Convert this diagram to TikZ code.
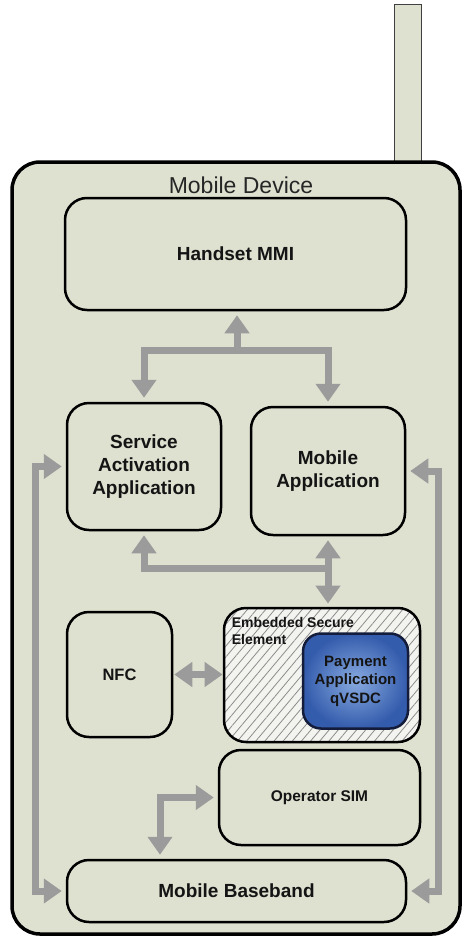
\documentclass[tikz,border=0pt]{standalone}
\usepackage{fontspec}
\setmainfont{Liberation Sans}
\usepackage{xcolor}
\usetikzlibrary{arrows.meta,patterns.meta}

\definecolor{devfill}{RGB}{222,225,208}
\definecolor{linkgray}{RGB}{155,155,155}
\definecolor{payin}{RGB}{136,170,224}
\definecolor{payout}{RGB}{52,92,172}
\definecolor{paydraw}{RGB}{20,28,60}

\begin{document}
\begin{tikzpicture}[
  x=1pt,y=-1pt,
  >={Triangle[width=24pt,length=18pt]},
  device/.style={rectangle,draw=black,fill=devfill,line width=3.5pt,rounded corners=28pt},
  box/.style={rectangle,draw=black,line width=2.5pt,rounded corners=22pt,
              align=center,text=black!92,inner sep=2pt,
              font=\fontsize{19}{23}\selectfont\bfseries},
  link/.style={draw=linkgray,line width=7pt,shorten <=4pt,shorten >=4pt}
]
  \useasboundingbox (0,0) rectangle (462,937);

  \draw[fill=devfill,draw=black!75,line width=1pt] (394,4) rectangle (421,166);
  \node[device,minimum width=448pt,minimum height=772pt](dev) at (236,548) {};
  \node[font=\fontsize{23}{26}\selectfont,text=black!85](devname) at (241,185) {Mobile Device};

  \node[box,minimum width=341pt,minimum height=112pt](mmi) at (235.5,254) {Handset MMI};
  \node[box,minimum width=154pt,minimum height=127pt](sa) at (144,466.5) {Service\\Activation\\Application};
  \node[box,minimum width=154pt,minimum height=128pt](ma) at (328,471) {Mobile\\Application};
  \node[box,minimum width=105pt,minimum height=125pt,
        font=\fontsize{16.5}{20}\selectfont\bfseries](nfc) at (119.5,674.5) {NFC};
  \node[box,minimum width=196pt,minimum height=134pt,preaction={fill=white!65!devfill},
        pattern={Lines[angle=50,distance=7pt,line width=0.8pt]},pattern color=black!45](ese) at (322,675) {};
  \node[anchor=north west,align=left,inner sep=0pt,text=black!92,
        font=\fontsize{14}{17}\selectfont\bfseries](eselabel) at ([xshift=8pt,yshift=-10pt]ese.north west) {Embedded Secure\\Element};
  \node[box,draw=paydraw,rounded corners=18pt,inner color=payin,outer color=payout,
        minimum width=105pt,minimum height=95pt,
        font=\fontsize{15}{18.5}\selectfont\bfseries](pay) at (355.5,681) {Payment\\Application\\qVSDC};
  \node[box,minimum width=201pt,minimum height=95pt,
        font=\fontsize{15.5}{18}\selectfont\bfseries](sim) at (319.5,797.5) {Operator SIM};
  \node[box,minimum width=339pt,minimum height=62pt](mbb) at (236.5,891) {Mobile Baseband};

  \coordinate (topjoin) at (237,350);
  \coordinate (midjoin) at (328,568);
  \coordinate (simrail) at (160,0);
  \coordinate (leftrail) at (35,0);
  \coordinate (rightrail) at (438,0);

  \draw[link,->,shorten <=0pt](topjoin)--(topjoin |- mmi.south);
  \draw[link,<->](sa.north) |- (topjoin) -| (ma.north);
  \draw[link,<->](ma.south)--(ma.south |- ese.north);
  \draw[link,->,shorten <=0pt](midjoin) -| (sa.south);
  \draw[link,<->](sa.west) -| (leftrail |- mbb.west)--(mbb.west);
  \draw[link,<->](ma.east) -| (rightrail |- mbb.east)--(mbb.east);
  \draw[link,<->,shorten <=1pt,shorten >=1pt](nfc.east)--(nfc.east -| ese.west);
  \draw[link,<->](sim.west) -| (simrail |- mbb.north);
\end{tikzpicture}
\end{document}
